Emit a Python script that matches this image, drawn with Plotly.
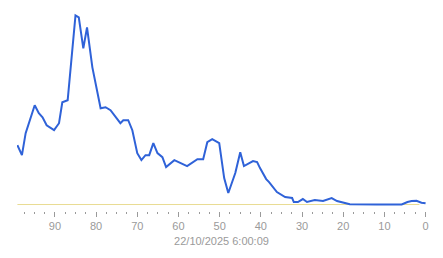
import plotly.graph_objects as go

x_vals = [99.1, 98.0, 97.1, 94.9, 93.9, 93.0, 92.0, 90.2, 89.0, 88.2, 86.9, 85.0, 84.2, 83.1,
          82.2, 80.9, 78.9, 77.7, 76.5, 74.1, 73.4, 72.2, 71.2, 70.0, 69.0, 68.0, 67.1, 66.1,
          65.1, 63.9, 63.0, 61.0, 57.9, 55.4, 54.0, 53.0, 51.8, 50.1, 48.9, 47.9, 46.2, 45.0,
          44.1, 43.1, 41.9, 40.9, 40.2, 38.7, 38.0, 36.1, 34.1, 32.4, 32.0, 31.0, 29.8, 28.8,
          26.9, 24.9, 22.8, 21.5, 19.6, 18.4, 11.9, 5.8, 4.4, 3.4, 2.2, 1.0, 0.0]
y_vals = [59.5, 49.5, 71.5, 99.5, 91.5, 87.5, 79.5, 74.5, 81.5, 102.5, 104.5, 189.5, 187.5, 156.5,
          177.5, 137.5, 96.5, 97.5, 94.5, 81.5, 84.5, 84.5, 74.5, 51.5, 44.5, 49.5, 49.5, 61.5,
          51.5, 47.5, 37.5, 44.5, 38.5, 45.5, 45.5, 62.5, 65.5, 61.5, 26.5, 11.5, 31.5, 52.5,
          38.5, 40.5, 43.5, 42.5, 36.5, 25.5, 22.5, 12.5, 7.5, 6.5, 2.5, 2.5, 5.5, 2.5,
          4.5, 3.5, 6.5, 3.5, 1.5, 0.2, 0.0, 0.0, 2.5, 3.5, 3.8, 1.8, 1.2]
baseline_x = [99.1, 1.5]
baseline_y = [0, 0]
tick_vals = [90, 80, 70, 60, 50, 40, 30, 20, 10, 0]
tick_text = ["90", "80", "70", "60", "50", "40", "30", "20", "10", "0"]
title_text = "22/10/2025 6:00:09"

fig = go.Figure()
fig.add_trace(go.Scatter(x=baseline_x, y=baseline_y, mode="lines",
                         line=dict(color="#e9dc93", width=1), hoverinfo="skip"))
fig.add_trace(go.Scatter(x=x_vals, y=y_vals, mode="lines",
                         line=dict(color="#2f62d8", width=2)))

fig.update_layout(
    width=443, height=258,
    margin=dict(l=17, r=16.5, t=9.5, b=47),
    paper_bgcolor="white", plot_bgcolor="white",
    showlegend=False,
    font=dict(family="Liberation Sans, Arial, sans-serif", size=11, color="#9a9a9a"),
    xaxis=dict(
        range=[99.2, -0.1],
        tickmode="array", tickvals=tick_vals, ticktext=tick_text,
        ticks="outside", ticklen=5, tickcolor="#9a9a9a", tickwidth=1,
        minor=dict(dtick=2.5, tick0=0, ticks="outside", ticklen=2, tickcolor="#9a9a9a", showgrid=False),
        showgrid=False, zeroline=False, showline=False,
        tickfont=dict(size=11, color="#9a9a9a"),
        title=dict(text=title_text, font=dict(size=11, color="#9a9a9a"), standoff=6),
    ),
    yaxis=dict(
        range=[-6.5, 195], showticklabels=False, showgrid=False,
        zeroline=False, showline=False, ticks="",
    ),
)

fig.write_html("out.html")
